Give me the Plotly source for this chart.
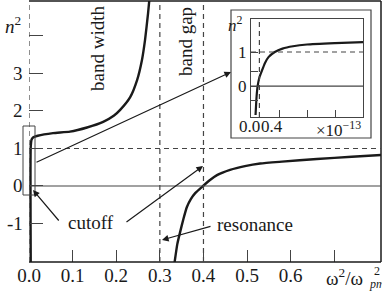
import plotly.graph_objects as go

# ---- data ----
branch1_x = [0.004, 0.004, 0.006, 0.010, 0.020, 0.055, 0.094, 0.133, 0.170, 0.195, 0.209, 0.232, 0.248, 0.259, 0.266, 0.273, 0.277]
branch1_y = [-2.1, 1.05, 1.24, 1.30, 1.34, 1.41, 1.45, 1.56, 1.71, 1.88, 2.03, 2.37, 2.83, 3.36, 3.89, 4.61, 5.1]

branch2_x = [0.333, 0.340, 0.346, 0.354, 0.362, 0.371, 0.381, 0.399, 0.415, 0.431, 0.461, 0.495, 0.53, 0.58, 0.66, 0.74, 0.81]
branch2_y = [-2.1, -1.55, -1.25, -0.88, -0.56, -0.35, -0.19, 0.0, 0.16, 0.29, 0.43, 0.53, 0.60, 0.65, 0.72, 0.78, 0.83]

inset_x = [0.065, 0.08, 0.095, 0.12, 0.15, 0.20, 0.25, 0.34, 0.45, 0.60, 0.80, 1.20, 1.60]
inset_y = [-0.85, -0.30, 0.0, 0.25, 0.42, 0.68, 0.85, 1.00, 1.10, 1.17, 1.22, 1.26, 1.29]

x_ticks = [0.0, 0.1, 0.2, 0.3, 0.4, 0.5, 0.6, 0.7]
x_ticktext = ["0.0", "0.1", "0.2", "0.3", "0.4", "0.5", "0.6", ""]
y_ticks = [-1, 0, 1, 2, 3, 4]
y_ticktext = ["-1", "0", "1", "2", "3", ""]
inset_yticks = [-0.42, 0, 0.42, 1]
inset_yticktext = ["", "0", "", "1"]
inset_xticks = [0.4, 0.8, 1.2]

band_edges = [0.3, 0.4]
cutoff_inset_x = 0.12

W, H = 382, 293
L, R, T, B = 29, 1, 1, 31
PW, PH = W - L - R, H - T - B


def px(p):
    return (p - L) / PW


def py(p):
    return (H - B - p) / PH


FONT = "Times New Roman, Times, Liberation Serif, DejaVu Serif, serif"
INK = "#1a1a1a"
LINE = "#444444"

fig = go.Figure()
fig.add_trace(go.Scatter(x=branch1_x, y=branch1_y, mode="lines",
                         line=dict(color=INK, width=2.4, shape="spline", smoothing=0.5),
                         hoverinfo="skip", cliponaxis=True))
fig.add_trace(go.Scatter(x=branch2_x, y=branch2_y, mode="lines",
                         line=dict(color=INK, width=2.4, shape="spline", smoothing=0.5),
                         hoverinfo="skip", cliponaxis=True))
fig.add_trace(go.Scatter(x=inset_x, y=inset_y, mode="lines", xaxis="x2", yaxis="y2",
                         line=dict(color=INK, width=2.2, shape="spline", smoothing=0.5),
                         hoverinfo="skip", cliponaxis=True))

shapes = []
dash = "5px,4px"
# main frame
shapes.append(dict(type="line", xref="paper", yref="paper", x0=0, x1=1, y0=0, y1=0, line=dict(color=INK, width=1.5)))
shapes.append(dict(type="line", xref="paper", yref="paper", x0=0, x1=1, y0=1, y1=1, line=dict(color=INK, width=1.5)))
shapes.append(dict(type="line", xref="paper", yref="paper", x0=1, x1=1, y0=0, y1=1, line=dict(color=INK, width=1.5)))
shapes.append(dict(type="line", xref="x", yref="paper", x0=0, x1=0, y0=0, y1=1, line=dict(color=LINE, width=1.2, dash=dash)))
# n^2 = 1 dashed, n^2 = 0 solid
shapes.append(dict(type="line", xref="paper", yref="y", x0=0, x1=1, y0=1, y1=1, line=dict(color=LINE, width=1.2, dash=dash)))
shapes.append(dict(type="line", xref="paper", yref="y", x0=0, x1=1, y0=0, y1=0, line=dict(color=LINE, width=1.2)))
for xv in band_edges:
    shapes.append(dict(type="line", xref="x", yref="paper", x0=xv, x1=xv, y0=0, y1=1, line=dict(color=LINE, width=1.2, dash=dash)))
# small rectangle near the origin
shapes.append(dict(type="rect", xref="paper", yref="paper", x0=px(23), x1=px(35), y0=py(195), y1=py(126),
                   line=dict(color=LINE, width=1)))
# inset outer box
shapes.append(dict(type="rect", xref="paper", yref="paper", x0=px(231), x1=px(371), y0=py(138), y1=py(10),
                   line=dict(color=LINE, width=1.2), layer="above"))
# inset lines
shapes.append(dict(type="line", xref="x2 domain", yref="y2", x0=0, x1=1, y0=1, y1=1, line=dict(color=LINE, width=1.2, dash=dash)))
shapes.append(dict(type="line", xref="x2 domain", yref="y2", x0=0, x1=1, y0=0, y1=0, line=dict(color=LINE, width=1.2)))
shapes.append(dict(type="line", xref="x2", yref="y2 domain", x0=cutoff_inset_x, x1=cutoff_inset_x, y0=0, y1=1,
                   line=dict(color=LINE, width=1.2, dash=dash)))

ann = []


def text(s, x, y, size=19, angle=0, xanchor="center", yanchor="middle"):
    ann.append(dict(text=s, x=px(x), y=py(y), xref="paper", yref="paper", showarrow=False,
                    font=dict(family=FONT, size=size, color=INK), textangle=angle,
                    xanchor=xanchor, yanchor=yanchor))


def arrow(tail, head):
    ann.append(dict(text="", x=px(head[0]), y=py(head[1]), xref="paper", yref="paper",
                    ax=tail[0] - head[0], ay=tail[1] - head[1], axref="pixel", ayref="pixel",
                    showarrow=True, arrowhead=2, arrowsize=1.1, arrowwidth=1.2, arrowcolor=INK))


# main y tick labels, placed next to the axis
for v, t in zip(y_ticks, y_ticktext):
    if t:
        ann.append(dict(text=t, x=px(25), y=v, xref="paper", yref="y", showarrow=False,
                        font=dict(family=FONT, size=19, color=INK), xanchor="right", yanchor="middle"))

text("<i>n</i><sup>2</sup>", 13, 25, size=19)
text("band width", 97, 49, angle=-90)
text("band gap", 185, 42, angle=-90)
text("cutoff", 91, 222)
text("resonance", 255, 224)
text("ω<sup>2</sup>/ω", 324, 277, xanchor="left")
text("2", 372, 271, size=12, xanchor="left")
text("<i>pm</i>", 367, 284, size=12, xanchor="left")
# inset labels
text("<i>n</i><sup>2</sup>", 236, 24, size=17)
text("0.0", 249, 127, size=17)
text("0.4", 272, 127, size=17)
text("×10<sup>−13</sup>", 338, 129, size=17)

arrow((35, 163), (231, 72))
arrow((60, 222), (33, 190))
arrow((125, 223), (203, 166))
arrow((212, 226), (162, 240))

fig.update_layout(
    width=W, height=H,
    margin=dict(l=L, r=R, t=T, b=B, pad=0, autoexpand=False),
    paper_bgcolor="white", plot_bgcolor="rgba(0,0,0,0)",
    showlegend=False,
    shapes=shapes, annotations=ann,
    font=dict(family=FONT, size=19, color=INK),
    xaxis=dict(range=[0, 0.807], tickvals=x_ticks, ticktext=x_ticktext, ticks="inside", ticklen=12,
               tickcolor=LINE, showgrid=False, zeroline=False, showline=False, automargin=False,
               tickfont=dict(family=FONT, size=19, color=INK)),
    yaxis=dict(range=[-2.027, 4.933], tickvals=y_ticks, ticks="inside", ticklen=14,
               showticklabels=False,
               tickcolor=LINE, showgrid=False, zeroline=False, showline=False, automargin=False),
    xaxis2=dict(domain=[px(251), px(363)], anchor="y2", range=[0, 1.6], tickvals=inset_xticks,
                ticktext=["", "", ""], ticks="inside", ticklen=7, tickcolor=LINE, automargin=False,
                showgrid=False, zeroline=False, showline=True, mirror=True, linecolor=LINE, linewidth=1.2),
    yaxis2=dict(domain=[py(117), py(19)], anchor="x2", range=[-0.91, 1.97], tickvals=inset_yticks,
                ticktext=inset_yticktext, ticks="inside", ticklen=7, tickcolor=LINE, automargin=False,
                showgrid=False, zeroline=False, showline=True, mirror=True, linecolor=LINE, linewidth=1.2,
                tickfont=dict(family=FONT, size=17, color=INK)),
)

fig.write_html("out.html", config={"displayModeBar": False},
               post_script="document.body.style.margin='0';document.body.style.padding='0';")
